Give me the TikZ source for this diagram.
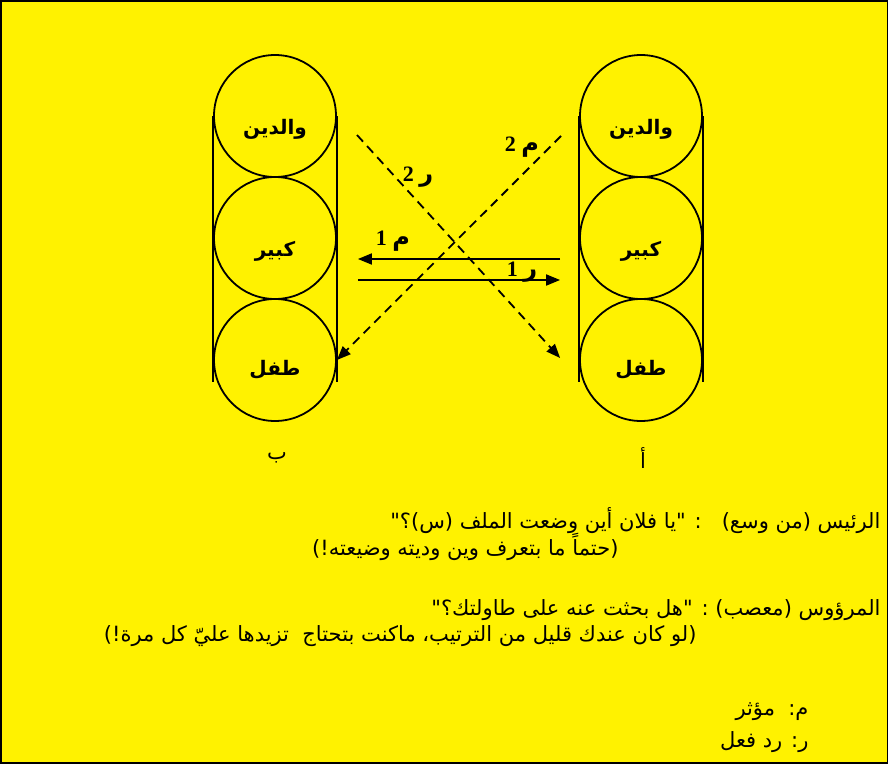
\documentclass[tikz,border=0pt]{standalone}
\usepackage{fontspec}
\setmainfont{Liberation Serif}
\newfontfamily\arabicfont[Script=Arabic]{DejaVu Sans}
\TeXXeTstate=1
\usetikzlibrary{arrows.meta,calc}
\definecolor{bgyellow}{RGB}{255,242,0}

\tikzset{
  stage/.style={draw, circle, line width=1.8pt, minimum size=122pt, inner sep=0pt},
  stagename/.style={font=\arabicfont\bfseries\fontsize{20}{22}\selectfont, yshift=-13pt},
  msg/.style={line width=1.8pt, -{Triangle[length=14pt,width=11pt]}},
  msgdash/.style={msg, dash pattern=on 9pt off 6pt},
  tag/.style={font=\bfseries\fontsize{22}{24}\selectfont},
  side/.style={font=\arabicfont\fontsize{21}{24}\selectfont},
  speech/.style={anchor=east, font=\arabicfont\fontsize{21}{24}\selectfont},
}
\newcommand{\tagletter}[1]{{\arabicfont\bfseries\fontsize{24}{26}\selectfont #1}}

\begin{document}
\begin{tikzpicture}[x=1pt, y=-1pt]
  \useasboundingbox (0,0) rectangle (888,763);
  \fill[bgyellow] (0,0) rectangle (888,763);
  \draw[line width=3pt] (0,0) rectangle (888,763);

  % column B (left)
  \node[stage, label={[stagename]center:\beginR والدين\endR}] (walidainB) at (275,116) {};
  \node[stage, label={[stagename]center:\beginR كبير\endR}]   (kabirB)    at (275,238) {};
  \node[stage, label={[stagename, yshift=3pt]center:\beginR طفل\endR}] (tiflB) at (275,360) {};
  % column A (right)
  \node[stage, label={[stagename]center:\beginR والدين\endR}] (walidainA) at (641,116) {};
  \node[stage, label={[stagename]center:\beginR كبير\endR}]   (kabirA)    at (641,238) {};
  \node[stage, label={[stagename, yshift=3pt]center:\beginR طفل\endR}] (tiflA) at (641,360) {};

  \draw[line width=1.8pt] (walidainB.west) -- ($(tiflB.west)+(0,22)$);
  \draw[line width=1.8pt] (walidainB.east) -- ($(tiflB.east)+(0,22)$);
  \draw[line width=1.8pt] (walidainA.west) -- ($(tiflA.west)+(0,22)$);
  \draw[line width=1.8pt] (walidainA.east) -- ($(tiflA.east)+(0,22)$);

  \coordinate (m1start) at ($(kabirA.west)+(-19,21)$);
  \coordinate (m1end)   at ($(kabirB.east)+(21,21)$);
  \coordinate (r1start) at ($(kabirB.east)+(21,42)$);
  \coordinate (r1end)   at ($(kabirA.west)+(-19,42)$);
  \coordinate (m2start) at (561,136);
  \coordinate (r2start) at (357,135);
  \coordinate (r2end)   at ($(tiflA.west)+(-19,-2)$);

  \draw[msg] (m1start) -- (m1end);
  \draw[msg] (r1start) -- (r1end);
  \draw[msgdash] (m2start) -- (tiflB.east);
  \draw[msgdash] (r2start) -- (r2end);

  \node[tag] (m2) at (522,147) {\beginR\tagletter{م} 2\endR};
  \node[tag] (r2) at (418,177) {\beginR\tagletter{ر} 2\endR};
  \node[tag] (m1) at (393,241) {\beginR\tagletter{م} 1\endR};
  \node[tag] (r1) at (522,272) {\beginR\tagletter{ر} 1\endR};

  \node[side] (colB) at (277,458) {ب};
  \node[side] (colA) at (643,458) {أ};

  % dialogue
  \node[speech] (boss)     at (884,521) {\beginR الرئيس (من وسع)\ \ \ : "يا فلان أين وضعت الملف (س)؟"\endR};
  \node[speech] (bossnote) at (622,547) {\beginR (حتماً ما بتعرف وين وديته وضيعته!)\endR};
  \node[speech] (staff)    at (884,610) {\beginR المرؤوس (معصب) : "هل بحثت عنه على طاولتك؟"\endR};
  \node[speech] (staffnote) at (700,636) {\beginR (لو كان عندك قليل من الترتيب، ماكنت بتحتاج\ \ تزيدها عليّ كل مرة!)\endR};

  % legend
  \node[speech] (keym) at (812,712) {\beginR م:\ \ مؤثر\endR};
  \node[speech] (keyr) at (812,742) {\beginR ر: رد فعل\endR};
\end{tikzpicture}
\end{document}
